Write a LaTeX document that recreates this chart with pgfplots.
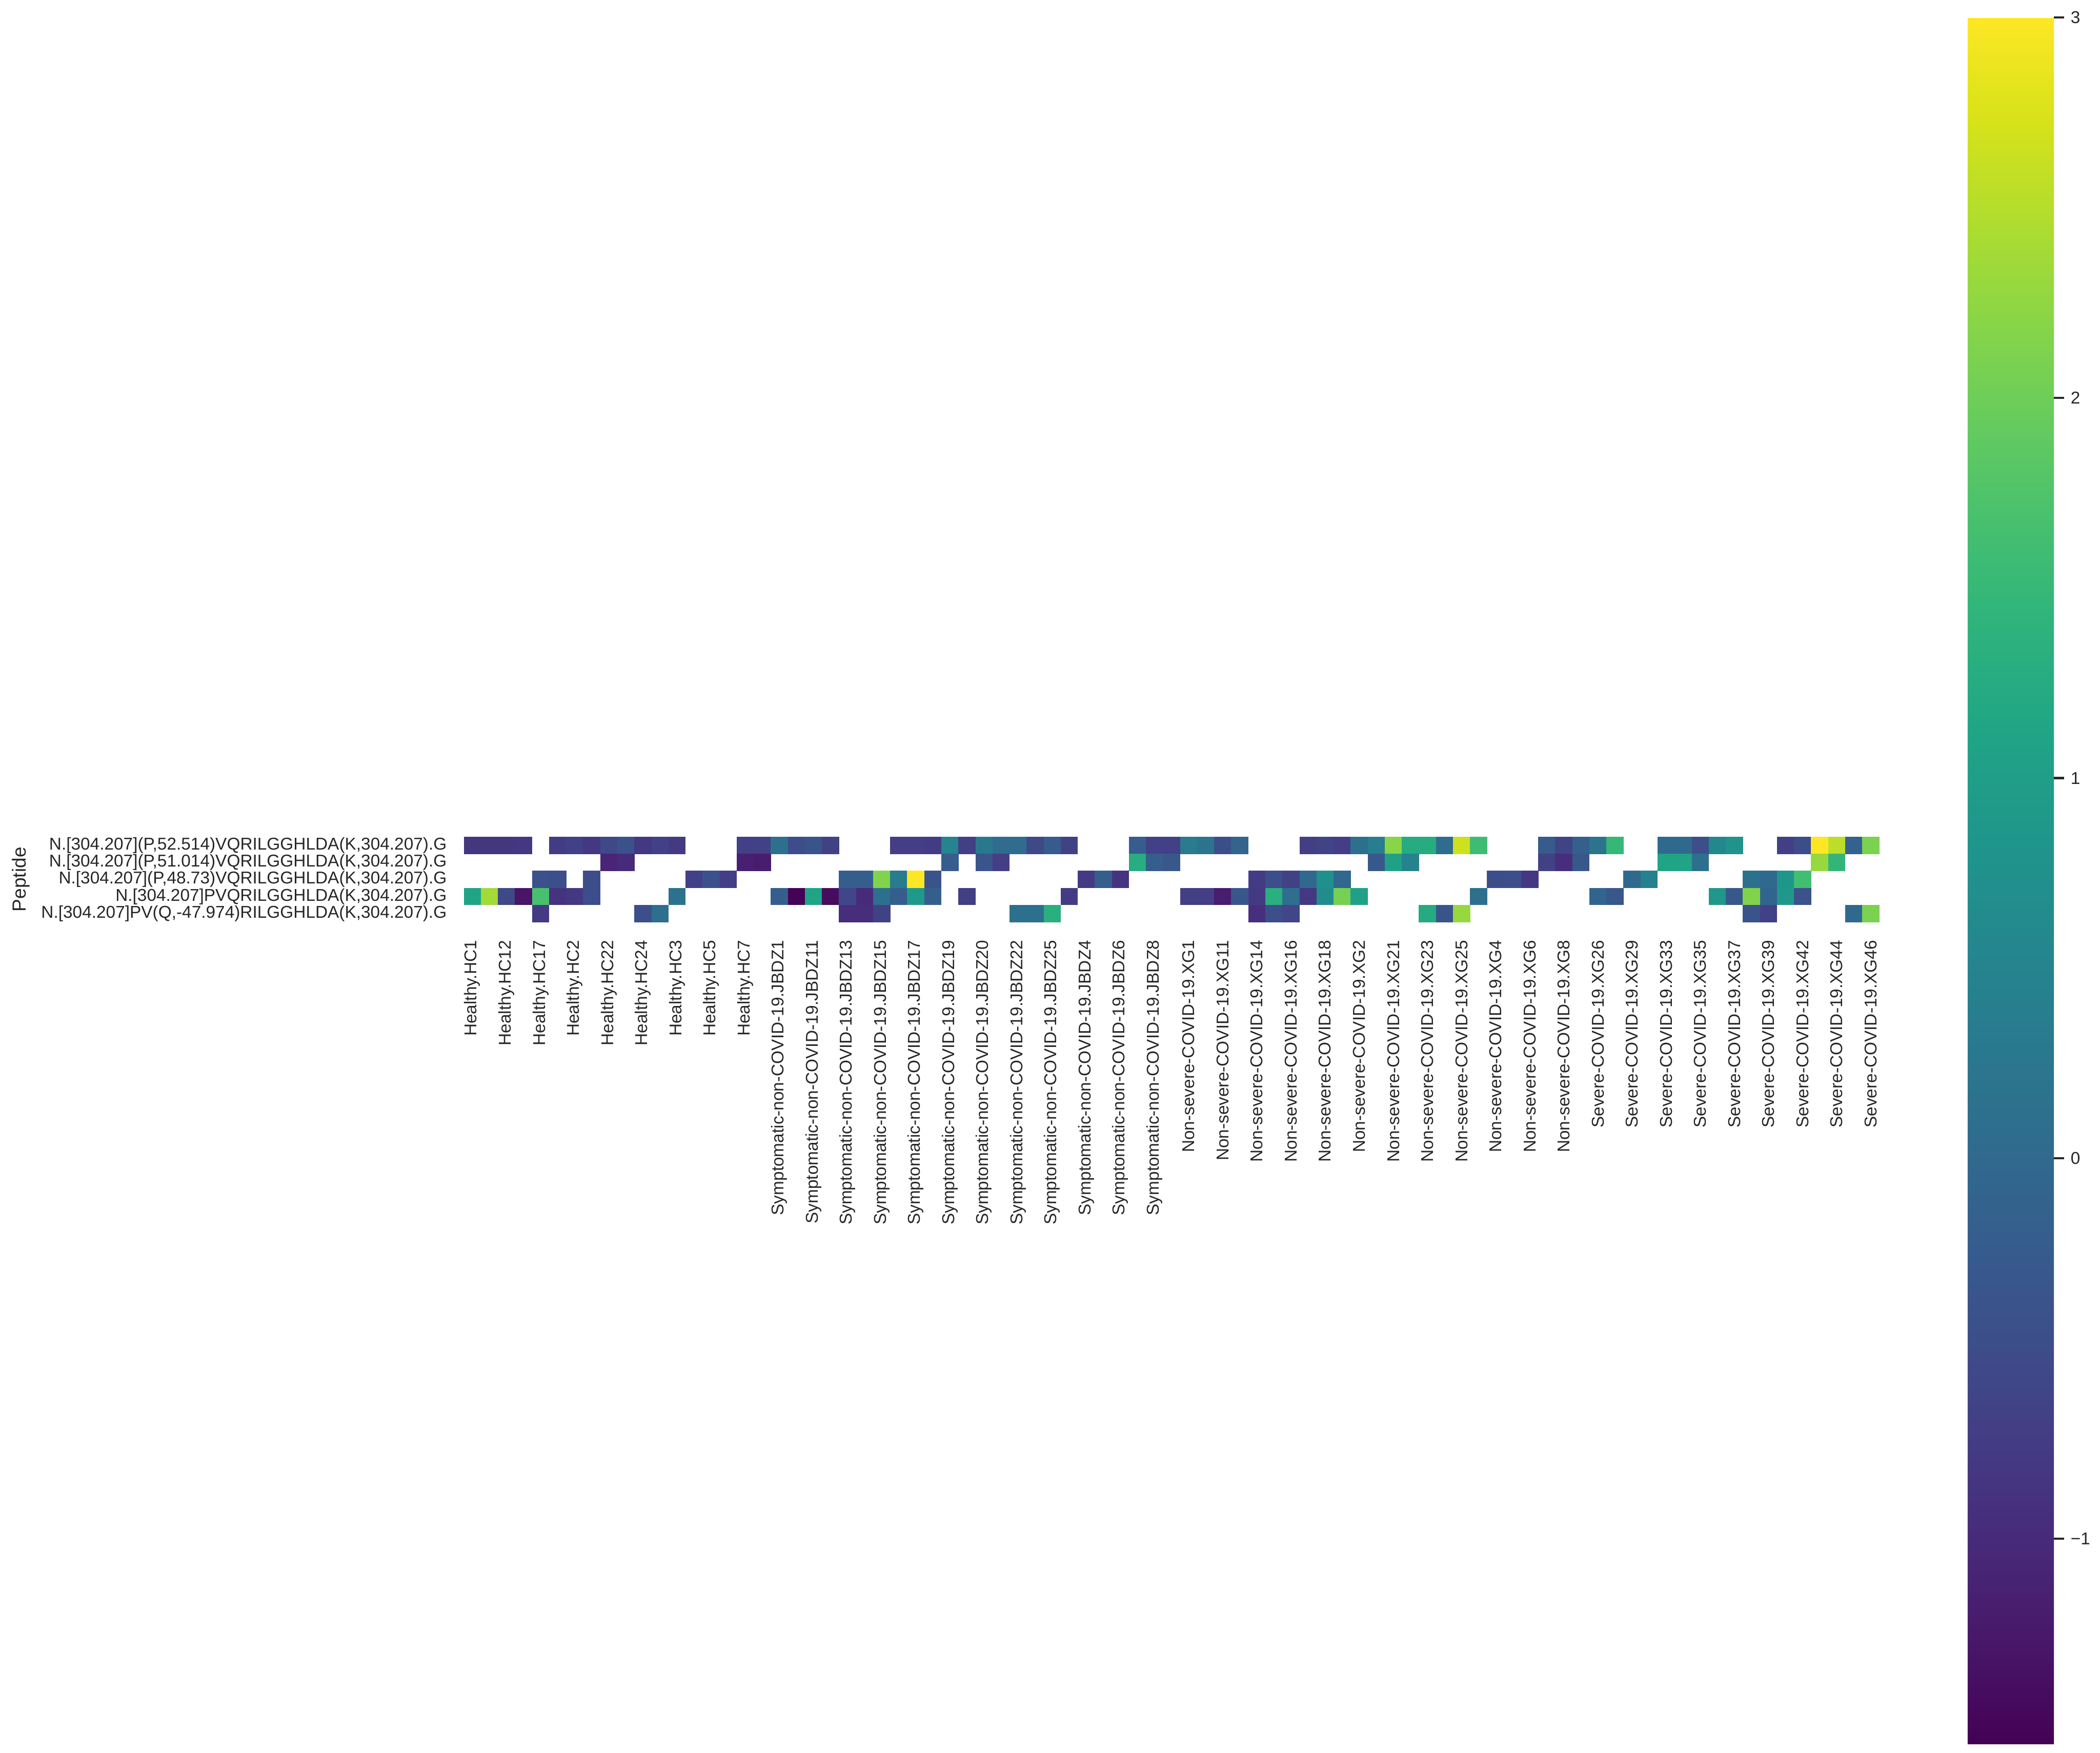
\documentclass[border=0pt]{standalone}
\usepackage{pgfplots}
\pgfplotsset{compat=1.18}
\usepackage{pgfplotstable}
\usepackage{fontspec}
\setmainfont{Liberation Sans}
\definecolor{txt}{HTML}{262626}
\newcommand\tickfont{\fontsize{4.5}{5.4}\selectfont}
\newcommand\labfont{\fontsize{5.0}{6.0}\selectfont}
\pgfplotstableread{
x y c
0 0 -0.84
1 0 -0.84
2 0 -0.84
3 0 -0.82
5 0 -0.75
6 0 -0.68
7 0 -0.80
8 0 -0.55
9 0 -0.42
10 0 -0.80
11 0 -0.68
12 0 -0.78
16 0 -0.68
17 0 -0.68
18 0 0.12
19 0 -0.50
20 0 -0.38
21 0 -0.65
25 0 -0.72
26 0 -0.72
27 0 -0.75
28 0 0.50
29 0 -0.70
30 0 0.28
31 0 0.05
32 0 0.05
33 0 -0.55
34 0 -0.25
35 0 -0.65
39 0 -0.22
40 0 -0.68
41 0 -0.68
42 0 0.33
43 0 0.20
44 0 -0.47
45 0 -0.10
49 0 -0.70
50 0 -0.62
51 0 -0.72
52 0 0.12
53 0 0.38
54 0 2.20
55 0 1.25
56 0 1.25
57 0 0.05
58 0 2.67
59 0 1.58
63 0 -0.25
64 0 -0.62
65 0 -0.18
66 0 0.20
67 0 1.48
70 0 0.00
71 0 0.00
72 0 -0.45
73 0 0.58
74 0 0.78
77 0 -0.70
78 0 -0.50
79 0 3.00
80 0 2.55
81 0 -0.15
82 0 2.10
8 1 -1.08
9 1 -1.00
16 1 -1.15
17 1 -1.20
28 1 -0.22
30 1 -0.35
31 1 -0.72
39 1 1.27
40 1 -0.20
41 1 -0.30
53 1 -0.30
54 1 1.05
55 1 0.48
63 1 -0.65
64 1 -0.95
65 1 -0.30
70 1 1.10
71 1 1.10
72 1 0.12
79 1 2.30
80 1 1.45
4 2 -0.42
5 2 -0.45
7 2 -0.48
13 2 -0.68
14 2 -0.42
15 2 -0.72
22 2 -0.20
23 2 -0.20
24 2 2.15
25 2 0.33
26 2 3.00
27 2 -0.38
36 2 -0.78
37 2 -0.20
38 2 -0.85
46 2 -0.75
47 2 -0.45
48 2 -0.65
49 2 -0.02
50 2 0.73
51 2 -0.02
60 2 -0.47
61 2 -0.45
62 2 -0.82
68 2 0.00
69 2 0.45
75 2 0.12
76 2 0.00
77 2 0.85
78 2 1.62
0 3 1.10
1 3 2.37
2 3 -0.55
3 3 -1.30
4 3 1.68
5 3 -0.88
6 3 -0.80
7 3 -0.50
12 3 0.16
18 3 -0.20
19 3 -1.52
20 3 1.10
21 3 -1.40
22 3 -0.60
23 3 -1.00
24 3 0.12
25 3 -0.20
26 3 0.92
27 3 -0.20
29 3 -0.70
35 3 -0.75
42 3 -0.70
43 3 -0.72
44 3 -1.20
45 3 -0.33
46 3 -0.78
47 3 1.32
48 3 0.08
49 3 -0.80
50 3 0.65
51 3 2.05
52 3 1.05
59 3 0.10
66 3 -0.08
67 3 -0.30
73 3 0.88
74 3 -0.30
75 3 2.15
76 3 -0.08
77 3 0.88
78 3 -0.40
4 4 -0.78
10 4 -0.45
11 4 0.10
22 4 -0.95
23 4 -0.95
24 4 -0.65
32 4 0.13
33 4 0.13
34 4 1.32
46 4 -0.92
47 4 -0.45
48 4 -0.60
56 4 1.22
57 4 -0.37
58 4 2.30
75 4 -0.38
76 4 -0.68
81 4 0.00
82 4 2.10
}\hm
\begin{document}
\begin{tikzpicture}[x=1pt,y=1pt]
\path[use as bounding box] (0,0) rectangle (551.9,-460.6);
\coordinate (cb) at (517.1,-4.6);
\begin{axis}[
  at={(121.9pt,-242.3pt)}, anchor=south west,
  scale only axis, width=372.0pt, height=22.41pt,
  xmin=-0.5, xmax=82.5, ymin=-0.5, ymax=4.5, y dir=reverse,
  axis line style={draw=none}, major tick length=0pt,
  clip=false,
  xtick={0,2,...,82},
  xticklabels={Healthy.HC1,Healthy.HC12,Healthy.HC17,Healthy.HC2,Healthy.HC22,Healthy.HC24,Healthy.HC3,Healthy.HC5,Healthy.HC7,
    Symptomatic-non-COVID-19.JBDZ1,Symptomatic-non-COVID-19.JBDZ11,Symptomatic-non-COVID-19.JBDZ13,Symptomatic-non-COVID-19.JBDZ15,Symptomatic-non-COVID-19.JBDZ17,Symptomatic-non-COVID-19.JBDZ19,Symptomatic-non-COVID-19.JBDZ20,Symptomatic-non-COVID-19.JBDZ22,Symptomatic-non-COVID-19.JBDZ25,Symptomatic-non-COVID-19.JBDZ4,Symptomatic-non-COVID-19.JBDZ6,Symptomatic-non-COVID-19.JBDZ8,
    Non-severe-COVID-19.XG1,Non-severe-COVID-19.XG11,Non-severe-COVID-19.XG14,Non-severe-COVID-19.XG16,Non-severe-COVID-19.XG18,Non-severe-COVID-19.XG2,Non-severe-COVID-19.XG21,Non-severe-COVID-19.XG23,Non-severe-COVID-19.XG25,Non-severe-COVID-19.XG4,Non-severe-COVID-19.XG6,Non-severe-COVID-19.XG8,
    Severe-COVID-19.XG26,Severe-COVID-19.XG29,Severe-COVID-19.XG33,Severe-COVID-19.XG35,Severe-COVID-19.XG37,Severe-COVID-19.XG39,Severe-COVID-19.XG42,Severe-COVID-19.XG44,Severe-COVID-19.XG46},
  ytick={0,1,2,3,4},
  yticklabels={{N.[304.207](P,52.514)VQRILGGHLDA(K,304.207).G},{N.[304.207](P,51.014)VQRILGGHLDA(K,304.207).G},{N.[304.207](P,48.73)VQRILGGHLDA(K,304.207).G},{N.[304.207]PVQRILGGHLDA(K,304.207).G},{N.[304.207]PV(Q,-47.974)RILGGHLDA(K,304.207).G}},
  xticklabel style={yshift=-4.6pt, rotate=90, anchor=east, inner sep=0pt, font=\tickfont, text=txt},
  yticklabel style={xshift=-4.3pt, anchor=east, inner sep=0pt, font=\tickfont, text=txt},
  every axis y label/.style={at={(rel axis cs:0,0.5)}, xshift=-116.4pt, rotate=90, anchor=center, font=\labfont, text=txt, inner sep=0pt},
  ylabel={Peptide},
  colormap/viridis,
  point meta min=-1.54, point meta max=3,
  colorbar,
  colorbar shift/.style={},
  colorbar/width=22.7pt,
  colorbar style={
    at={(cb)}, anchor=north west,
    scale only axis, width=22.7pt, height=453.7pt,
    ytick={-1,0,1,2,3},
    yticklabels={−1,0,1,2,3},
    axis line style={draw=none},
    major tick length=2.6pt, tick align=outside, ytick pos=right,
    tick style={draw=txt, line width=0.6pt},
    yticklabel style={anchor=west, inner sep=0pt, xshift=1.6pt, font=\tickfont, text=txt},
  },
]
\addplot[scatter, only marks, mark=square*, mark size=2.2pt,
  scatter src=explicit,
  scatter/use mapped color={draw=mapped color, fill=mapped color},
  mark options={line width=0.1pt}]
  table[x=x, y=y, meta=c] {\hm};
\end{axis}
\end{tikzpicture}
\end{document}
